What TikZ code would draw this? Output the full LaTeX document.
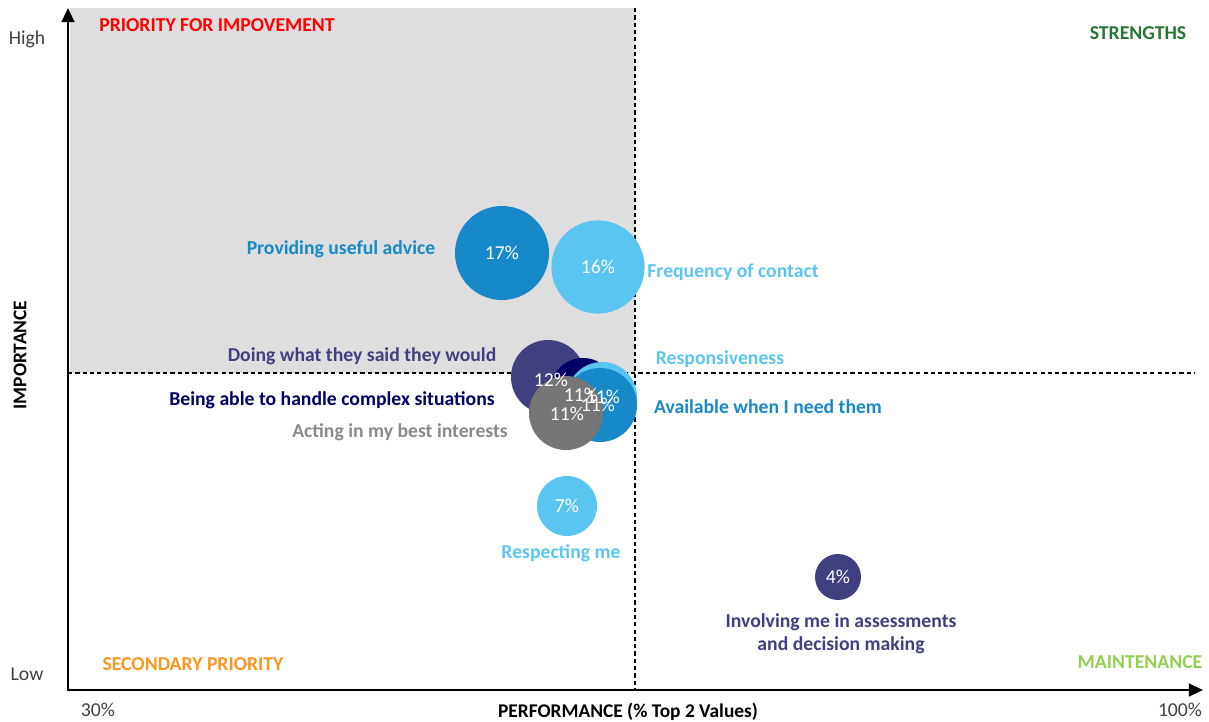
\documentclass[tikz,border=0pt]{standalone}
\usepackage{fontspec}
\setmainfont{Carlito}
\usepackage{tikz}
\usetikzlibrary{arrows.meta}

\definecolor{midblue}{RGB}{23,137,201}
\definecolor{skyblue}{RGB}{91,197,242}
\definecolor{plum}{RGB}{64,64,128}
\definecolor{navy}{RGB}{0,0,102}
\definecolor{stone}{RGB}{118,118,118}
\definecolor{greyzone}{RGB}{222,222,222}
\definecolor{strength}{RGB}{38,118,52}
\definecolor{secondary}{RGB}{250,150,30}
\definecolor{maintain}{RGB}{146,208,80}
\definecolor{axistext}{RGB}{64,64,64}

\tikzset{
    bubble/.style={circle,inner sep=0pt,draw=none},
    pct/.style={text=white,font=\fontsize{14}{16}\selectfont},
    lab/.style={font=\bfseries\fontsize{14}{16}\selectfont},
    quad/.style={font=\bfseries\fontsize{14}{16}\selectfont},
    axislab/.style={text=axistext,font=\fontsize{14}{16}\selectfont},
    divider/.style={line width=0.9pt,dash pattern=on 3pt off 2.2pt}
}

\begin{document}
\begin{tikzpicture}[x=0.025cm,y=-0.025cm]
            \useasboundingbox (0,0) rectangle (1209,722);
            \fill[greyzone] (70,8) rectangle (635,373);
            \coordinate (o) at (68,690);
            \coordinate (ytop) at (68,8);
            \coordinate (xend) at (1203,690);
            \coordinate (vtop) at (635,8);
            \coordinate (vbot) at (635,690);
            \coordinate (hleft) at (68,373);
            \coordinate (hright) at (1195,373);
            \draw[divider] (vtop) -- (vbot);
            \draw[divider] (hleft) -- (hright);
            \draw[line width=1.7pt,-{Triangle[length=10pt,width=9pt]}] ([yshift=-0.8pt]o) -- (ytop);
            \draw[line width=1.7pt,-{Triangle[length=10pt,width=9pt]}] ([xshift=-0.8pt]o) -- (xend);
            % axis texts
            \node[axislab] (high) at (27,39) {High};
            \node[axislab] (low) at (27,674) {Low};
            \node[axislab] (xmin) at (98,710) {30\%};
            \node[axislab] (xmax) at (1180,710) {100\%};
            \node[font=\bfseries\fontsize{13.8}{15}\selectfont] (xtitle) at (628,712) {PERFORMANCE (\% Top 2 Values)};
            \node[font=\bfseries\fontsize{13.8}{15}\selectfont,rotate=90] (ytitle) at (20,355) {IMPORTANCE};
            % quadrants
            \node[quad,text=red] (q1) at (217,25) {PRIORITY FOR IMPOVEMENT};
            \node[quad,text=strength] (q2) at (1138,33) {STRENGTHS};
            \node[quad,text=secondary] (q3) at (193,664) {SECONDARY PRIORITY};
            \node[quad,text=maintain] (q4) at (1140,662) {MAINTENANCE};
            % bubbles
            \node[bubble,fill=midblue,minimum size=2.35cm] (advice) at (502,253) {};
            \node[bubble,fill=skyblue,minimum size=2.33cm] (contact) at (598,267) {};
            \node[bubble,fill=plum,minimum size=1.85cm] (said) at (548,377) {};
            \node[bubble,fill=navy,minimum size=1.65cm] (complex) at (583,391) {};
            \node[bubble,fill=skyblue,minimum size=1.75cm] (respon) at (602,397) {};
            \node[bubble,fill=midblue,minimum size=1.85cm] (avail) at (600,405) {};
            \node[bubble,fill=stone,minimum size=1.85cm] (best) at (566,413) {};
            \node[bubble,fill=skyblue,minimum size=1.5cm] (respect) at (567,506) {};
            \node[bubble,fill=plum,minimum size=1.15cm] (involve) at (838,577) {};
            % values
            \node[pct] at (advice) {17\%};
            \node[pct] at (contact) {16\%};
            \node[pct] at (551,380) {12\%};
            \node[pct] at (581,395) {11\%};
            \node[pct] at (603,397) {11\%};
            \node[pct] at (598,405) {11\%};
            \node[pct] at (567,414) {11\%};
            \node[pct] at (respect) {7\%};
            \node[pct] at (involve) {4\%};
            % names
            \node[lab,text=midblue] (advicelab) at (341,249) {Providing useful advice};
            \node[lab,text=skyblue] (contactlab) at (733,272) {Frequency of contact};
            \node[lab,text=plum] (saidlab) at (362,356) {Doing what they said they would};
            \node[lab,text=skyblue] (responlab) at (720,359) {Responsiveness};
            \node[lab,text=navy] (complexlab) at (332,400) {Being able to handle complex situations};
            \node[lab,text=midblue] (availlab) at (768,407) {Available when I need them};
            \node[lab,text=stone!85!white] (bestlab) at (400,432) {Acting in my best interests};
            \node[lab,text=skyblue] (respectlab) at (561,553) {Respecting me};
            \node[lab,text=plum,align=center] (involvelab) at (841,634) {Involving me in assessments\\and decision making};
        \end{tikzpicture}
\end{document}
